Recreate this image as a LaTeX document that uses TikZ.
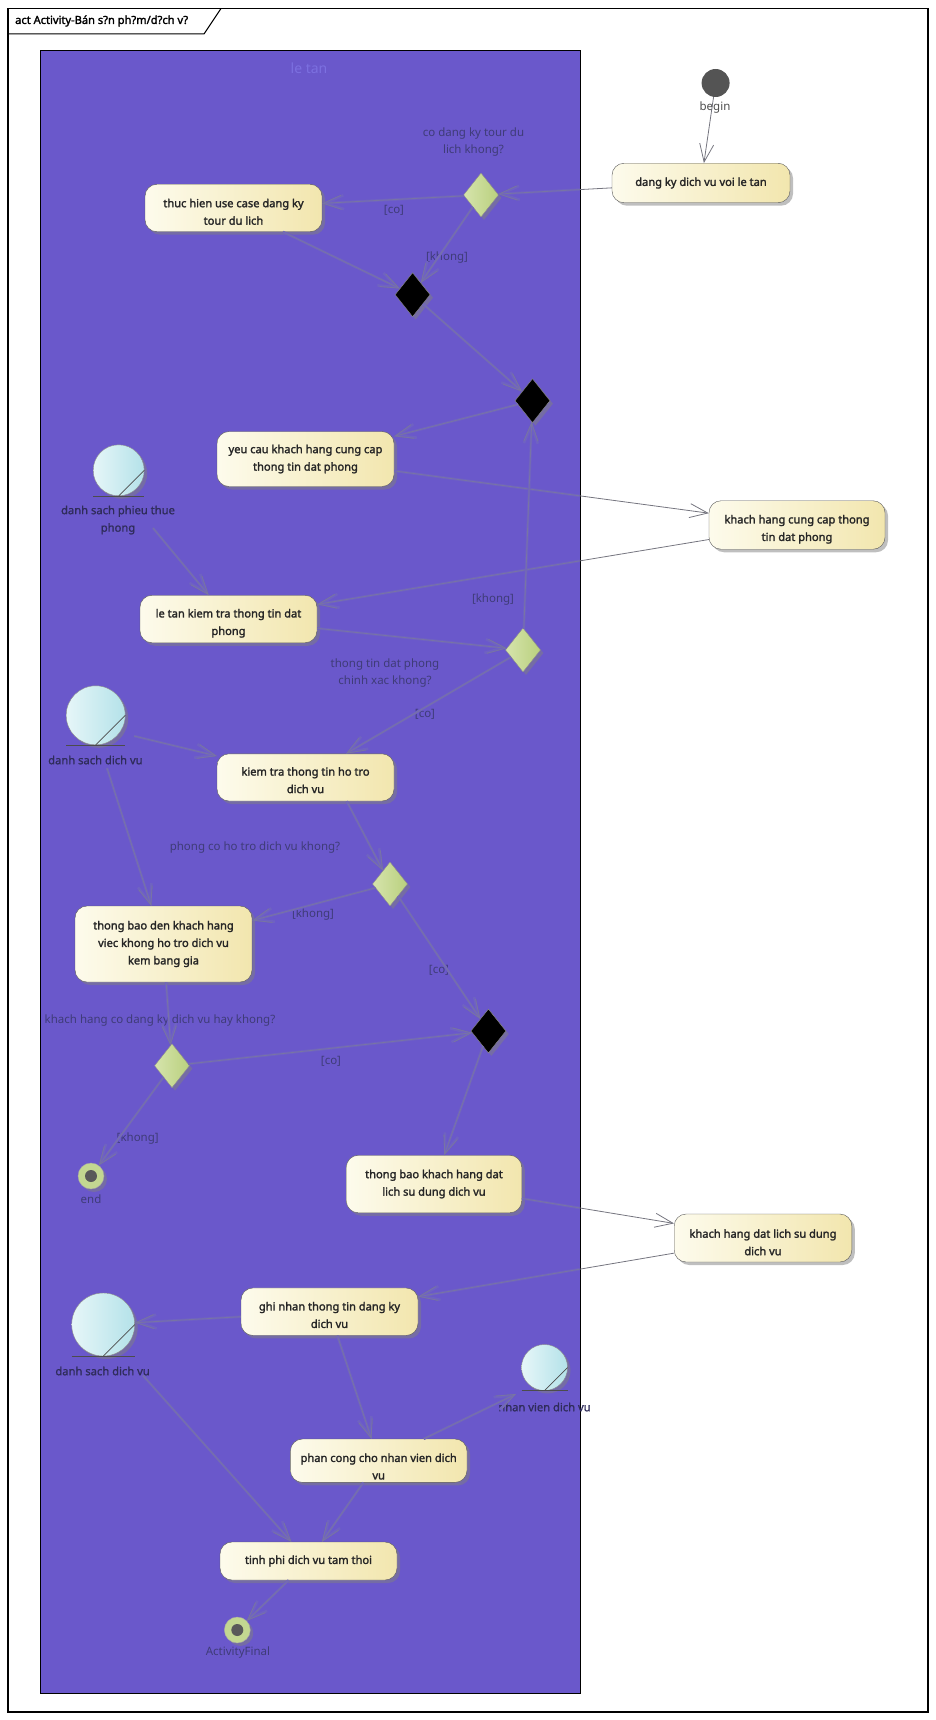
\documentclass[tikz,border=0pt]{standalone}
\usepackage{fontspec}
\setmainfont{Noto Sans}
\newfontfamily\actfont[FakeBold=2]{Noto Sans}
\newfontfamily\objfont[FakeBold=1.2]{Noto Sans}
\usetikzlibrary{shapes.geometric,arrows.meta,shadows}

\definecolor{laneblue}{HTML}{6A58CB}
\definecolor{lanetext}{HTML}{7C70E0}
\definecolor{guardtext}{HTML}{3F3C78}
\definecolor{objtext}{HTML}{2F2C5A}
\definecolor{creamL}{HTML}{FDFBEC}
\definecolor{creamR}{HTML}{F2E6AE}
\definecolor{limeL}{HTML}{D6E4AC}
\definecolor{limeR}{HTML}{B9D07E}
\definecolor{iceL}{HTML}{E6F6F8}
\definecolor{iceR}{HTML}{B4E2E9}
\definecolor{flowgrey}{HTML}{75757F}
\definecolor{flowhalo}{HTML}{6F62C2}
\definecolor{flowcore}{HTML}{7874A4}

\newcommand{\lift}[1]{\rule{0pt}{#1pt}}

\tikzset{
    softshadow/.style={drop shadow={shadow xshift=3pt,shadow yshift=-3pt,opacity=.5,fill=gray}},
    action/.style={draw=black!65, rounded corners=12pt, left color=creamL, right color=creamR,
        softshadow, align=center, inner sep=0pt, text=black!85,
        font=\actfont\fontsize{11.1}{17.5}\selectfont},
    decision/.style={diamond, draw=black!45, left color=limeL, right color=limeR,
        softshadow, inner sep=0pt, minimum width=35pt, minimum height=44pt},
    merge/.style={diamond, draw=black!45, fill=black, softshadow, inner sep=0pt,
        minimum width=35pt, minimum height=44pt},
    object/.style={circle, draw=black!45, left color=iceL, right color=iceR,
        softshadow, inner sep=0pt},
    objline/.style={draw=black!70, line width=.7pt},
    finalring/.style={circle, draw=black!35, fill=limeR!85!white, softshadow,
        inner sep=0pt, minimum size=26pt},
    finaldot/.style={circle, fill=black!65, inner sep=0pt, minimum size=12pt},
    guard/.style={align=center, text=guardtext, inner sep=0pt,
        font=\fontsize{11.5}{17.5}\selectfont},
    objlabel/.style={align=center, text=objtext, inner sep=0pt,
        font=\objfont\fontsize{11.2}{17.5}\selectfont},
    flow/.style={draw=flowgrey, line width=.8pt, -{Straight Barb[length=18pt,width=14pt]}},
    flowglow/.style={draw=flowhalo, line width=2.6pt, -{Straight Barb[length=18pt,width=14pt]}},
    flowcore/.style={draw=flowcore, line width=.8pt, -{Straight Barb[length=18pt,width=14pt]}}
}

\begin{document}
\begin{tikzpicture}[x=1pt,y=-1pt]
\useasboundingbox (0,0) rectangle (935,1720);

% frame
\draw[line width=1.2pt] (8,8.5) rectangle (928,1712);
\draw[line width=1pt] (8,34) -- (204,34) -- (221,8.5);
\node[anchor=west, inner sep=0pt, font=\actfont\fontsize{11.1}{14}\selectfont] (frametitle) at (15,21) {act Activity-Bán s?n ph?m/d?ch v?};

% lane
\fill[laneblue] (40.5,50.5) rectangle (580,1693);
\draw[line width=1pt] (40.5,50.5) rectangle (580,1693);
\node[text=lanetext, font=\fontsize{14}{16}\selectfont] (lanename) at (309,68) {le tan};

% actions
\foreach \n/\x/\y/\w/\h/\t in {
dk/701/183/178/39.5/{dang ky dich vu voi le tan},
th/233.5/208/177/47.5/{\lift{16}thuc hien use case dang ky\\tour du lich},
yc/305.5/459/177/55/{yeu cau khach hang cung cap\\thong tin dat phong},
kc/797/525/176/48.5/{\lift{17}khach hang cung cap thong\\tin dat phong},
lt/228.5/619/177/47.5/{\lift{17}le tan kiem tra thong tin dat\\phong},
kt/305.5/777.4/177/47.2/{\lift{14}kiem tra thong tin ho tro\\dich vu},
tb/163.5/944/177/76/{thong bao den khach hang\\viec khong ho tro dich vu\\kem bang gia},
tk/434/1184/175.5/57.5/{thong bao khach hang dat\\lich su dung dich vu},
kd/763/1238/177.6/48/{\lift{17}khach hang dat lich su dung\\dich vu},
gn/329.5/1311.7/177/47.5/{\lift{15}ghi nhan thong tin dang ky\\dich vu},
pc/378.7/1460.7/176.6/43.4/{\lift{20}phan cong cho nhan vien dich\\vu},
tp/308.5/1561/177/38/{tinh phi dich vu tam thoi}}{
    \node[action, minimum width=\w, minimum height=\h] (\n) at (\x,\y) {\t};
}

% decisions and merges
\foreach \n/\x/\y in {d1/481/195, d2/523/650, d3/390/884, d4/172/1065.7}{
    \node[decision] (\n) at (\x,\y) {};
}
\foreach \n/\x/\y in {m1/412.6/294.7, m2/532.5/400.7, m3/488.4/1031}{
    \node[merge] (\n) at (\x,\y) {};
}

% objects
\foreach \n/\x/\y/\r in {dsp/118.7/470.3/25.5, dv1/95.7/715.3/29.5, dv2/103.2/1324.5/31.5, nv/544.5/1367.5/23}{
    \node[object, minimum size=2*\r] (\n) at (\x,\y) {};
    \draw[objline] (\n.south) -- (\n.east);
    \draw[objline] ([xshift=-\r]\n.south) -- ([xshift=\r]\n.south);
}

% start and ends
\node[circle, fill=black!67, inner sep=0pt, minimum size=28pt] (begin) at (715.6,83) {};
\foreach \n/\x/\y in {end/91/1176, fin/237.3/1630}{
    \node[finalring] (\n) at (\x,\y) {};
    \node[finaldot] (\n dot) at (\n) {};
}

% labels
\foreach \x/\y/\t [count=\i] in {
473.5/142/{co dang ky tour du\\lich khong?},
394/210/{[co]},
447/258/{[khong]},
493/600/{[khong]},
385/673/{thong tin dat phong\\chinh xac khong?},
425/714.4/{[co]},
255/848/{phong co ho tro dich vu khong?},
313/914/{[khong]},
439/970/{[co]},
160/1020/{khach hang co dang ky dich vu hay khong?},
331/1061.5/{[co]},
137.7/1138/{[khong]},
91/1199/{end},
238/1652/{ActivityFinal}}{
    \node[guard] (lb\i) at (\x,\y) {\t};
}
\foreach \x/\y/\t [count=\i] in {
118/520/{danh sach phieu thue\\phong},
95.4/760/{danh sach dich vu},
102.6/1371/{danh sach dich vu},
544.5/1407/{nhan vien dich vu}}{
    \node[objlabel] (ob\i) at (\x,\y) {\t};
}
\node[guard, text=black!70] (beginlabel) at (715,107.5) {begin};

% free ends of the object flows
\coordinate (dspout) at (153,528);
\coordinate (dv1right) at (134,736);
\coordinate (dv1down) at (107,768);
\coordinate (dv2out) at (143,1375.5);
\coordinate (nvin) at (516,1394);

% flows
\foreach \a/\b in {
begin/dk, dk/d1, d1/th, d1/m1, th/m1, m1/m2, m2/yc, yc/kc, kc/lt, dspout/lt, lt/d2, d2/m2, d2/kt,
dv1right/kt, dv1down/tb, kt.-30/d3, d3/tb, d3/m3, tb/d4, d4/m3, d4/end, m3/tk, tk/kd, kd/gn,
gn/dv2, gn/pc, pc/nvin, pc/tp, dv2out/tp, tp/fin}{
    \draw[flow] (\a) -- (\b);
    \begin{scope}
        \clip (41,51) rectangle (579.5,1692.5);
        \draw[flowglow] (\a) -- (\b);
        \draw[flowcore] (\a) -- (\b);
    \end{scope}
}

\end{tikzpicture}
\end{document}
